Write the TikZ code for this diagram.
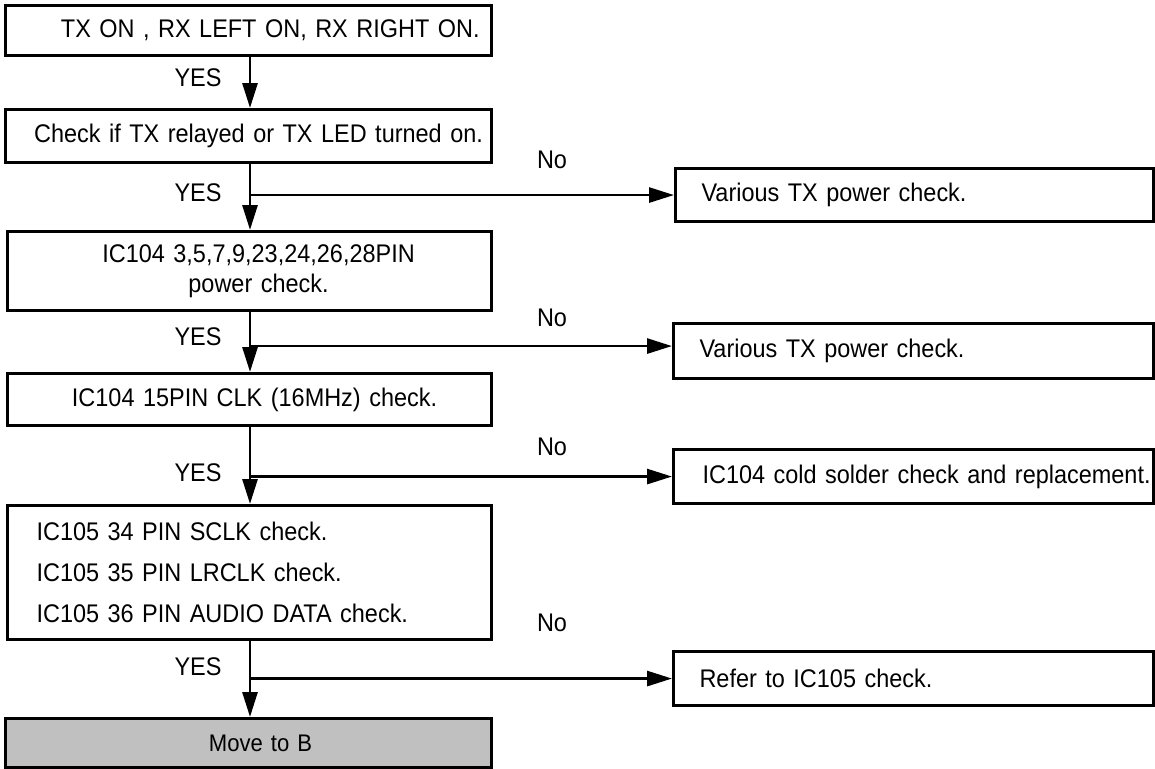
\documentclass[tikz,border=0pt]{standalone}
\usepackage{fontspec}
\setmainfont{Liberation Sans}[FakeStretch=0.92]
\usetikzlibrary{arrows.meta}
\definecolor{movegray}{HTML}{C0C0C0}
\tikzset{
  box/.style={draw=black, line width=3.1pt, rectangle, anchor=north west, inner ysep=0pt,
    font=\fontsize{25.5}{29}\selectfont},
  arr/.style={line width=2.8pt, -{Triangle[length=25pt,width=15pt]}},
  lbl/.style={font=\fontsize{25.5}{29}\selectfont, inner sep=0pt},
}
\begin{document}
\begin{tikzpicture}[x=1pt,y=-1pt]
\useasboundingbox (0,0) rectangle (1155,768);
% left column
\node[box, minimum width=486pt, minimum height=50pt, text width=462pt, inner xsep=12pt, align=right] (b1) at (4,4) {\mbox{TX ON , RX LEFT ON, RX RIGHT ON.}};
\node[box, minimum width=486pt, minimum height=53pt, text width=474pt, inner xsep=6pt, align=center] (b2) at (4,108) {\mbox{\hspace*{20pt}Check if TX relayed or TX LED turned on.}};
\node[box, minimum width=484pt, minimum height=79pt, text width=464pt, inner xsep=10pt, align=center, font=\fontsize{25.5}{30}\selectfont] (b3) at (6,230) {\hspace*{18pt}IC104 3,5,7,9,23,24,26,28PIN\\\hspace*{18pt}power check.};
\node[box, minimum width=484pt, minimum height=52pt, text width=464pt, inner xsep=10pt, align=center] (b4) at (6,372) {\mbox{\hspace*{10pt}IC104 15PIN CLK (16MHz) check.}};
\node[box, minimum width=484pt, minimum height=134pt, text width=426pt, inner xsep=29pt, align=left, font=\fontsize{25.5}{41}\selectfont] (b5) at (6,504) {IC105 34 PIN SCLK check.\\IC105 35 PIN LRCLK check.\\IC105 36 PIN AUDIO DATA check.};
\node[box, fill=movegray, minimum width=486pt, minimum height=49pt, text width=466pt, inner xsep=10pt, align=center, font=\fontsize{24}{26}\selectfont] (b6) at (4,717) {\hspace*{24pt}Move to B};
% right column
\node[box, minimum width=478pt, minimum height=53pt, text width=426pt, inner xsep=26pt, align=left] (r1) at (674,167) {\mbox{Various TX power check.}};
\node[box, minimum width=480pt, minimum height=55pt, text width=428pt, inner xsep=26pt, align=left] (r2) at (672,322) {\mbox{Various TX power check.}};
\node[box, minimum width=480pt, minimum height=54pt, text width=450pt, inner xsep=15pt, align=left] (r3) at (672,448) {\mbox{\hspace*{14pt}IC104 cold solder check and replacement.}};
\node[box, minimum width=480pt, minimum height=54pt, text width=428pt, inner xsep=26pt, align=left] (r4) at (672,650) {\mbox{Refer to IC105 check.}};
% trunk
\coordinate (tx) at (250,0);
\draw[arr] (b1.south -| tx) -- (b2.north -| tx);
\draw[arr] (b2.south -| tx) -- (b3.north -| tx);
\draw[arr] (b3.south -| tx) -- (b4.north -| tx);
\draw[arr] (b4.south -| tx) -- (b5.north -| tx);
\draw[arr] (b5.south -| tx) -- (b6.north -| tx);
% branches
\coordinate (r2in) at ([yshift=5pt]r2.west);
\draw[arr] (tx |- r1.west) -- (r1.west);
\draw[arr] (tx |- r2in) -- (r2in);
\draw[arr] (tx |- r3.west) -- (r3.west);
\draw[arr] (tx |- r4.west) -- (r4.west);
% labels
\node[lbl] (y1) at (198,78) {YES};
\node[lbl] (y2) at (198,193) {YES};
\node[lbl] (y3) at (198,337) {YES};
\node[lbl] (y4) at (198,473) {YES};
\node[lbl] (y5) at (198,667) {YES};
\node[lbl] (n1) at (552,160) {No};
\node[lbl] (n2) at (552,318) {No};
\node[lbl] (n3) at (552,447) {No};
\node[lbl] (n4) at (552,623) {No};
\end{tikzpicture}
\end{document}
